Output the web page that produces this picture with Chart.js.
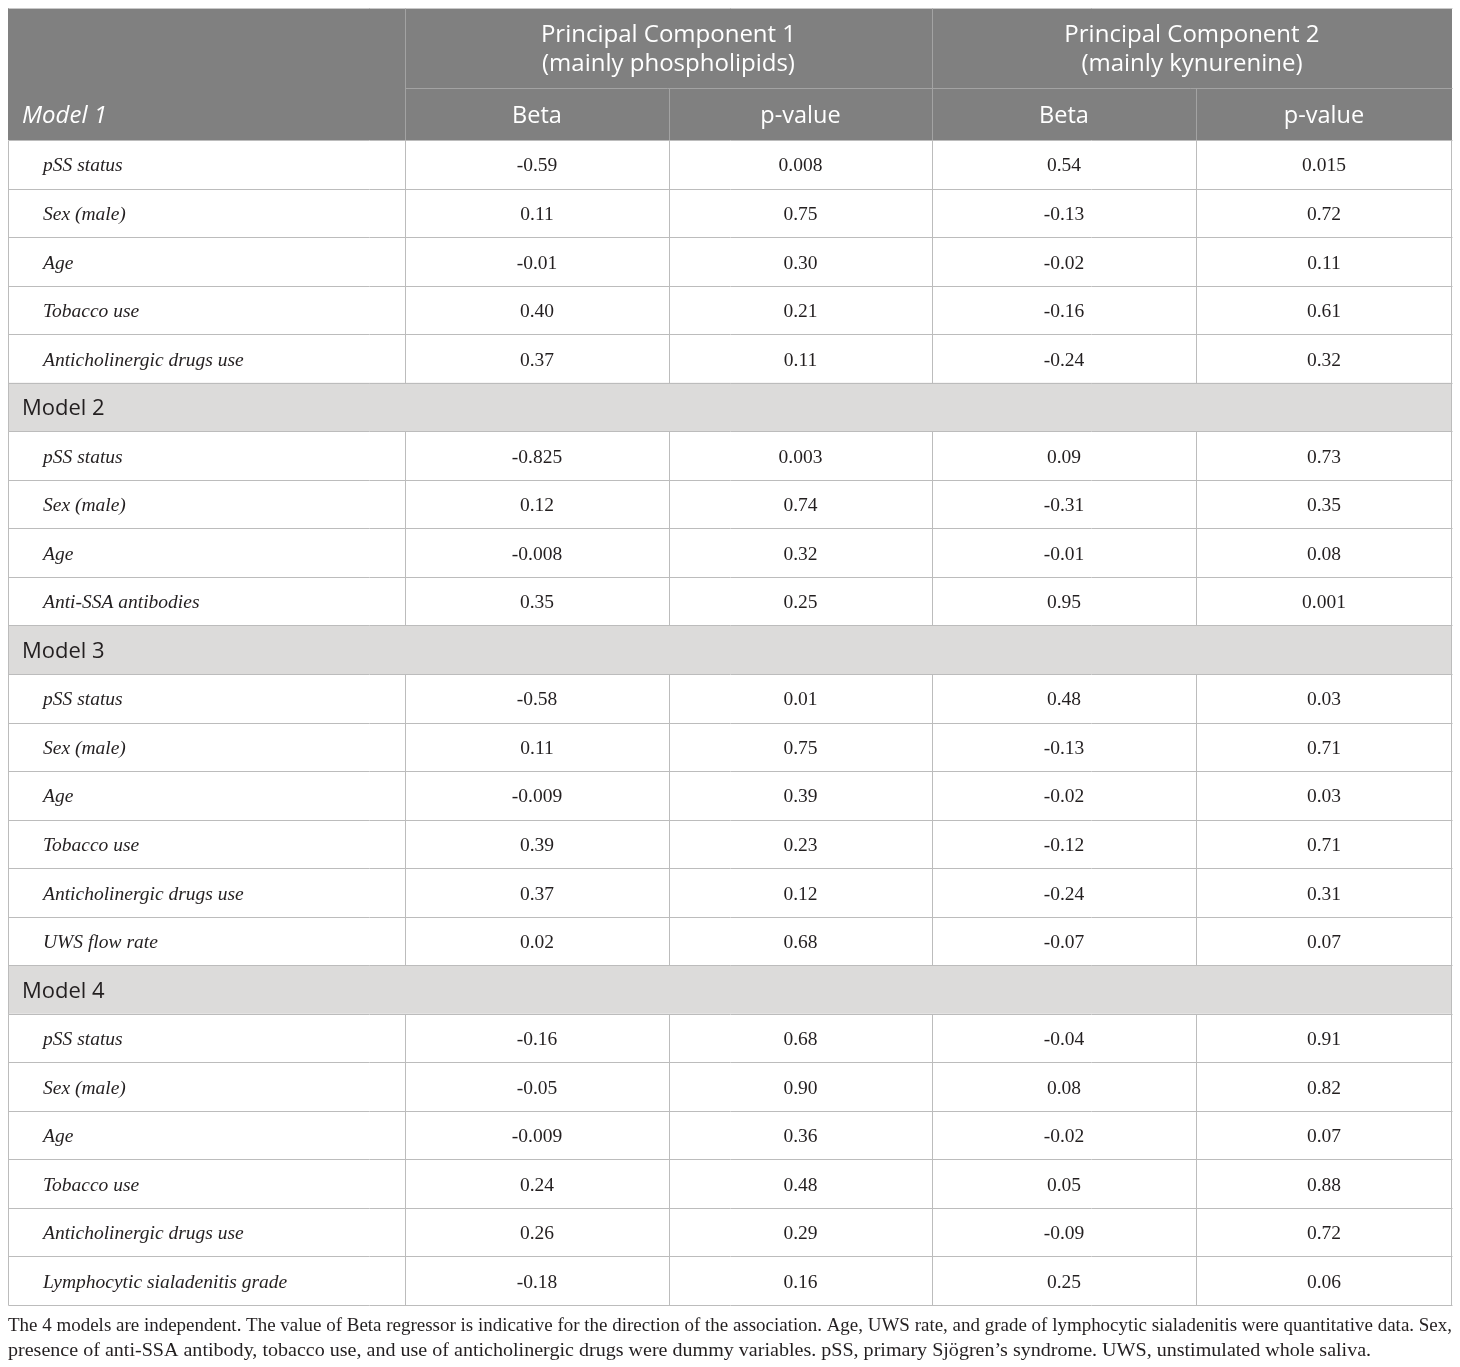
<!DOCTYPE html>
<html>
<head>
<meta charset="utf-8">
<script src="https://cdn.jsdelivr.net/npm/chart.js@4.4.1/dist/chart.umd.min.js"></script>
<style>
  html, body { margin: 0; padding: 0; background: #ffffff; }
  #wrap { width: 1460px; height: 1367px; }
</style>
</head>
<body>
<div id="wrap"><canvas id="c" width="1460" height="1367"></canvas></div>
<script>
// ---------- DATA ----------
const groupHeaders = [
  ['Principal Component 1', '(mainly phospholipids)'],
  ['Principal Component 2', '(mainly kynurenine)']
];
const columnHeaders = ['Beta', 'p-value', 'Beta', 'p-value'];
const modelNames = ['Model 1', 'Model 2', 'Model 3', 'Model 4'];

const model1Vars   = ['pSS status', 'Sex (male)', 'Age', 'Tobacco use', 'Anticholinergic drugs use'];
const model1Pc1Beta = ['-0.59', '0.11', '-0.01', '0.40', '0.37'];
const model1Pc1P    = ['0.008', '0.75', '0.30', '0.21', '0.11'];
const model1Pc2Beta = ['0.54', '-0.13', '-0.02', '-0.16', '-0.24'];
const model1Pc2P    = ['0.015', '0.72', '0.11', '0.61', '0.32'];

const model2Vars   = ['pSS status', 'Sex (male)', 'Age', 'Anti-SSA antibodies'];
const model2Pc1Beta = ['-0.825', '0.12', '-0.008', '0.35'];
const model2Pc1P    = ['0.003', '0.74', '0.32', '0.25'];
const model2Pc2Beta = ['0.09', '-0.31', '-0.01', '0.95'];
const model2Pc2P    = ['0.73', '0.35', '0.08', '0.001'];

const model3Vars   = ['pSS status', 'Sex (male)', 'Age', 'Tobacco use', 'Anticholinergic drugs use', 'UWS flow rate'];
const model3Pc1Beta = ['-0.58', '0.11', '-0.009', '0.39', '0.37', '0.02'];
const model3Pc1P    = ['0.01', '0.75', '0.39', '0.23', '0.12', '0.68'];
const model3Pc2Beta = ['0.48', '-0.13', '-0.02', '-0.12', '-0.24', '-0.07'];
const model3Pc2P    = ['0.03', '0.71', '0.03', '0.71', '0.31', '0.07'];

const model4Vars   = ['pSS status', 'Sex (male)', 'Age', 'Tobacco use', 'Anticholinergic drugs use', 'Lymphocytic sialadenitis grade'];
const model4Pc1Beta = ['-0.16', '-0.05', '-0.009', '0.24', '0.26', '-0.18'];
const model4Pc1P    = ['0.68', '0.90', '0.36', '0.48', '0.29', '0.16'];
const model4Pc2Beta = ['-0.04', '0.08', '-0.02', '0.05', '-0.09', '0.25'];
const model4Pc2P    = ['0.91', '0.82', '0.07', '0.88', '0.72', '0.06'];

const footnoteLines = [
  'The 4 models are independent. The value of Beta regressor is indicative for the direction of the association. Age, UWS rate, and grade of lymphocytic sialadenitis were quantitative data. Sex,',
  'presence of anti-SSA antibody, tobacco use, and use of anticholinergic drugs were dummy variables. pSS, primary Sjögren\u2019s syndrome. UWS, unstimulated whole saliva.'
];

// ---------- LAYOUT (logical units on the chart scales) ----------
const colEdges = [0, 1.504, 2.504, 3.5, 4.5, 5.47];   // x-scale units
const headerRowHeights = [1.65, 1.07];               // y-scale units (body row = 1)
const footnoteLineFill = [1, 0.944];                 // share of table width each footnote line fills

// ---------- build rows ----------
const models = [
  { vars: model1Vars, cols: [model1Pc1Beta, model1Pc1P, model1Pc2Beta, model1Pc2P] },
  { vars: model2Vars, cols: [model2Pc1Beta, model2Pc1P, model2Pc2Beta, model2Pc2P] },
  { vars: model3Vars, cols: [model3Pc1Beta, model3Pc1P, model3Pc2Beta, model3Pc2P] },
  { vars: model4Vars, cols: [model4Pc1Beta, model4Pc1P, model4Pc2Beta, model4Pc2P] }
];
const bodyRows = [];
models.forEach((m, mi) => {
  if (mi > 0) bodyRows.push({ kind: 'model', label: modelNames[mi] });
  m.vars.forEach((v, i) => bodyRows.push({ kind: 'var', label: v, vals: m.cols.map(c => c[i]) }));
});
const headTotal = headerRowHeights[0] + headerRowHeights[1];
const yMax = headTotal + bodyRows.length;

const labelData = bodyRows.map((r, i) => ({ x: colEdges[0], y: headTotal + i + 0.5, text: r.label, kind: r.kind }));
const valueDatasets = columnHeaders.map((h, c) => ({
  label: h,
  data: bodyRows.map((r, i) => r.kind === 'var'
    ? { x: (colEdges[c + 1] + colEdges[c + 2]) / 2, y: headTotal + i + 0.5, text: r.vals[c] }
    : null).filter(Boolean)
}));

const SERIF = '"Liberation Serif", "DejaVu Serif", serif';
const SANS = '"Open Sans", "Noto Sans", sans-serif';
const TEXT = '#231f20';

const tablePlugin = {
  id: 'tablePlugin',
  beforeDatasetsDraw(chart) {
    const ctx = chart.ctx, xs = chart.scales.x, ys = chart.scales.y;
    const X = v => xs.getPixelForValue(v), Y = v => ys.getPixelForValue(v);
    const L = X(colEdges[0]), R = X(colEdges[colEdges.length - 1]);
    ctx.save();
    ctx.fillStyle = '#808080';
    ctx.fillRect(L, Y(0), R - L, Y(headTotal) - Y(0));
    bodyRows.forEach((r, i) => {
      if (r.kind === 'model') {
        ctx.fillStyle = '#dcdbda';
        ctx.fillRect(L, Y(headTotal + i), R - L, Y(headTotal + i + 1) - Y(headTotal + i));
      }
    });
    const line = (x1, y1, x2, y2, col) => {
      ctx.strokeStyle = col; ctx.lineWidth = 1;
      ctx.beginPath(); ctx.moveTo(Math.round(x1) + 0.5, Math.round(y1) + 0.5);
      ctx.lineTo(Math.round(x2) + 0.5, Math.round(y2) + 0.5); ctx.stroke();
    };
    const hl = '#a3a3a3';
    line(L, Y(0), R, Y(0), '#c8c8c8');
    line(X(colEdges[1]), Y(0), X(colEdges[1]), Y(headTotal), hl);
    line(X(colEdges[3]), Y(0), X(colEdges[3]), Y(headTotal), hl);
    line(X(colEdges[2]), Y(headerRowHeights[0]), X(colEdges[2]), Y(headTotal), hl);
    line(X(colEdges[4]), Y(headerRowHeights[0]), X(colEdges[4]), Y(headTotal), hl);
    line(X(colEdges[1]), Y(headerRowHeights[0]), R, Y(headerRowHeights[0]), hl);
    const gl = '#bcbcbc';
    bodyRows.forEach((r, i) => {
      const t = Y(headTotal + i), b = Y(headTotal + i + 1);
      line(L, b, R, b, gl);
      if (r.kind === 'var') {
        for (let c = 1; c < colEdges.length - 1; c++) line(X(colEdges[c]), t, X(colEdges[c]), b, gl);
      }
    });
    line(L, Y(headTotal), L, Y(yMax), gl);
    line(R - 1, Y(headTotal), R - 1, Y(yMax), gl);
    line(L, Y(headTotal), R, Y(headTotal), gl);

    // header text
    ctx.fillStyle = '#ffffff';
    ctx.textBaseline = 'middle';
    ctx.textAlign = 'center';
    ctx.font = '24px ' + SANS;
    groupHeaders.forEach((g, gi) => {
      const cx = (X(colEdges[1 + gi * 2]) + X(colEdges[3 + gi * 2])) / 2;
      const cy = Y(headerRowHeights[0] / 2) + 2;
      ctx.fillText(g[0], cx, cy - 14.5);
      ctx.fillText(g[1], cx, cy + 14.5);
    });
    const subY = Y(headerRowHeights[0] + headerRowHeights[1] / 2) + 2;
    ctx.font = '23.5px ' + SANS;
    columnHeaders.forEach((h, c) => {
      ctx.fillText(h, (X(colEdges[c + 1]) + X(colEdges[c + 2])) / 2, subY);
    });
    ctx.textAlign = 'left';
    ctx.font = 'italic 24px ' + SANS;
    ctx.fillText(modelNames[0], L + 14, subY);
    ctx.restore();
  },
  afterDatasetsDraw(chart) {
    const ctx = chart.ctx;
    ctx.save();
    ctx.fillStyle = TEXT;
    ctx.textBaseline = 'middle';
    const lm = chart.getDatasetMeta(0);
    lm.data.forEach((el, i) => {
      const d = labelData[i];
      ctx.textAlign = 'left';
      if (d.kind === 'model') {
        ctx.font = '22px ' + SANS;
        ctx.fillText(d.text, el.x + 14, el.y + 2);
      } else {
        ctx.font = 'italic 19.5px ' + SERIF;
        ctx.fillText(d.text, el.x + 35, el.y + 2);
      }
    });
    ctx.textAlign = 'center';
    ctx.font = '19.5px ' + SERIF;
    for (let c = 0; c < valueDatasets.length; c++) {
      const meta = chart.getDatasetMeta(c + 1);
      meta.data.forEach((el, i) => ctx.fillText(valueDatasets[c].data[i].text, el.x, el.y + 2));
    }
    // footnote
    const xs = chart.scales.x, ys = chart.scales.y;
    const L = xs.getPixelForValue(colEdges[0]), R = xs.getPixelForValue(colEdges[colEdges.length - 1]);
    const bottom = ys.getPixelForValue(yMax);
    ctx.font = '19px ' + SERIF;
    ctx.textAlign = 'left';
    ctx.textBaseline = 'middle';
    footnoteLines.forEach((t, i) => {
      const w = ctx.measureText(t).width;
      const f = (R - L) * footnoteLineFill[i] / w;
      ctx.save();
      ctx.translate(L, bottom + 21 + i * 25);
      ctx.scale(f, 1);
      ctx.fillText(t, 0, 0);
      ctx.restore();
    });
    ctx.restore();
  }
};

new Chart(document.getElementById('c'), {
  type: 'scatter',
  data: {
    datasets: [
      { label: 'labels', data: labelData.map(d => ({ x: d.x, y: d.y })), pointRadius: 0 },
      ...valueDatasets.map(ds => ({ label: ds.label, data: ds.data.map(d => ({ x: d.x, y: d.y })), pointRadius: 0 }))
    ]
  },
  options: {
    responsive: false,
    animation: false,
    devicePixelRatio: 1,
    layout: { padding: { left: 8, right: 8, top: 8, bottom: 62 } },
    plugins: { legend: { display: false }, tooltip: { enabled: false } },
    scales: {
      x: { type: 'linear', display: false, min: colEdges[0], max: colEdges[colEdges.length - 1] },
      y: { type: 'linear', display: false, reverse: true, min: 0, max: yMax }
    }
  },
  plugins: [tablePlugin]
});
</script>
</body>
</html>
